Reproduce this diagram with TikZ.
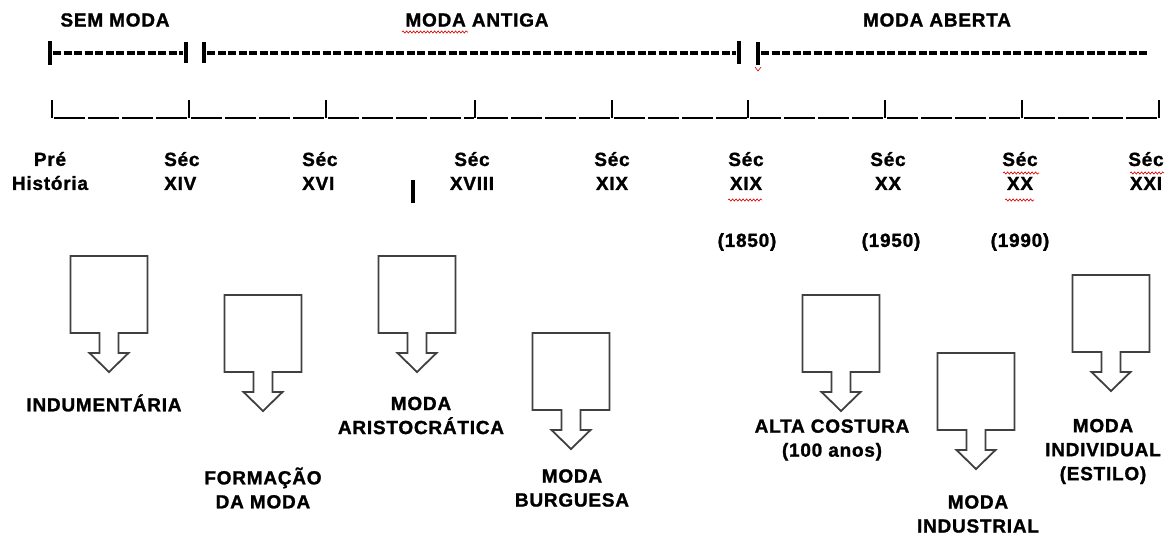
\documentclass[tikz,border=0pt]{standalone}
\usepackage{fontspec}
\setmainfont{Liberation Sans}[LetterSpace=4,BoldFeatures={FakeBold=1.3}]
\usetikzlibrary{decorations.pathmorphing}
\begin{document}
\begin{tikzpicture}
	[x=1pt,y=-1pt,
	lbl/.style={font=\bfseries\fontsize{19}{24}\selectfont,align=center,inner sep=0pt},
	bar/.style={line width=3.5pt},
	tick/.style={line width=1.4pt},
	dashrow/.style={line width=3.3pt,dash pattern=on 8pt off 2.5pt},
	lowrow/.style={line width=1.4pt,dash pattern=on 31pt off 3pt},
	squig/.style={red!85!black,line width=0.6pt,decorate,decoration={snake,amplitude=1.1pt,segment length=3.5pt}},
	downbox/.pic={\draw[line width=1.8pt,black!75] (-38.5,0) -- (38.5,0) -- (38.5,77) -- (9.5,77) -- (9.5,97) -- (19.5,97) -- (0,116) -- (-19.5,97) -- (-9.5,97) -- (-9.5,77) -- (-38.5,77) -- cycle;}
	]
	\useasboundingbox[fill=white] (0,0) rectangle (1175,538);

	% periods
	\node[lbl] (sem) at (115,20) {SEM MODA};
	\node[lbl] (antiga) at (477,20) {MODA ANTIGA};
	\node[lbl] (aberta) at (937,20) {MODA ABERTA};

	\draw[dashrow] (53,53) -- (183,53);
	\draw[dashrow] (207,53) -- (736,53);
	\draw[dashrow] (761,53) -- (1149,53);
	\draw[bar] (50,41) -- (50,65);
	\draw[bar] (186,42) -- (186,63);
	\draw[bar] (204,42) -- (204,63);
	\draw[bar] (739,41) -- (739,64);
	\draw[bar] (758,42) -- (758,65);

	% century scale
	\foreach \t in {52,189,326,475,612,748,885,1022,1159}
		\draw[tick] (\t,100) -- (\t,118);
	\foreach \a/\b in {52/189,189/326,326/475,475/612,612/748,748/885,885/1022,1022/1159}
		\draw[lowrow] (\a+2,118) -- (\b-1,118);

	\node[lbl] (pre) at (50,171) {Pré\\História};
	\node[lbl,anchor=west,align=left] (s14) at (164,171) {Séc\\XIV};
	\node[lbl,anchor=west,align=left] (s16) at (302,171) {Séc\\XVI};
	\draw[bar] (413,180) -- (413,203);
	\node[lbl] (s18) at (472,171) {Séc\\XVIII};
	\node[lbl] (s19) at (612,171) {Séc\\XIX};
	\node[lbl] (s19b) at (746,171) {Séc\\XIX};
	\node[lbl] (s20) at (888,171) {Séc\\XX};
	\node[lbl] (s20b) at (1020,171) {Séc\\XX};
	\node[lbl] (s21) at (1146,171) {Séc\\XXI};

	\node[lbl] (y1850) at (747,242) {(1850)};
	\node[lbl] (y1950) at (891,242) {(1950)};
	\node[lbl] (y1990) at (1020,242) {(1990)};

	% spelling marks
	\draw[squig] (402,32) -- (468,32);
	\draw[squig] (728,200) -- (762,200);
	\draw[squig] (1003,173) -- (1039,173);
	\draw[squig] (1005,200) -- (1034,200);
	\draw[squig] (1130,173) -- (1164,173);
	\draw[red!85!black,line width=0.6pt] (755,67) -- (758,71) -- (761,67);

	% stages
	\pic at (109,256) {downbox};
	\pic at (263,295) {downbox};
	\pic at (417,256) {downbox};
	\pic at (571,333) {downbox};
	\pic at (841,295) {downbox};
	\pic at (976,353) {downbox};
	\pic at (1111,275) {downbox};

	\node[lbl] (indu) at (104,403) {INDUMENTÁRIA};
	\node[lbl] (form) at (263,488) {FORMAÇÃO\\DA MODA};
	\node[lbl] (aris) at (421,415.5) {MODA\\ARISTOCRÁTICA};
	\node[lbl] (burg) at (572,488) {MODA\\BURGUESA};
	\node[lbl] (alta) at (832,440) {ALTA COSTURA\\(100 anos)};
	\node[lbl] (indus) at (978,514) {MODA\\INDUSTRIAL};
	\node[lbl] (indiv) at (1103,451.5) {MODA\\INDIVIDUAL\\(ESTILO)};
\end{tikzpicture}
\end{document}
